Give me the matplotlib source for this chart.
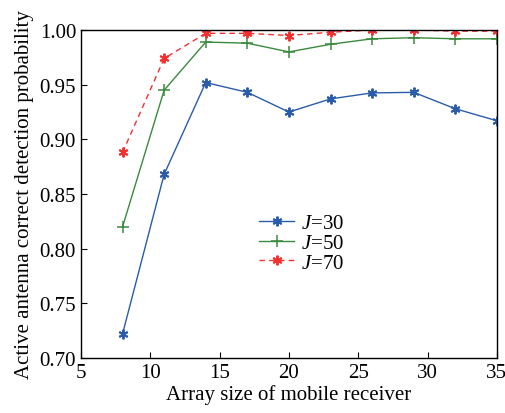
import numpy as np
import matplotlib.pyplot as plt

plt.rcParams['font.family'] = ['Liberation Serif', 'DejaVu Serif']
plt.rcParams['mathtext.fontset'] = 'custom'
plt.rcParams['mathtext.it'] = 'Liberation Serif:italic'
plt.rcParams['mathtext.rm'] = 'Liberation Serif'

# ========== DATA ==========
array_size = [8, 11, 14, 17, 20, 23, 26, 29, 32, 35]
p_j30 = [0.722, 0.868, 0.952, 0.943, 0.925, 0.937, 0.9425, 0.943, 0.928, 0.917]
p_j50 = [0.820, 0.945, 0.989, 0.988, 0.980, 0.987, 0.992, 0.993, 0.992, 0.992]
p_j70 = [0.888, 0.974, 0.997, 0.997, 0.995, 0.998, 1.000, 1.000, 0.999, 0.999]

fig = plt.figure(figsize=(5.06, 4.14), dpi=100)
ax = fig.add_axes([0.160, 0.133, 0.822, 0.792])

asterisk = (6, 2, 0)
ax.plot(array_size, p_j30, color='#2a5caa', marker=asterisk, markersize=7, markeredgewidth=1.4,
        linewidth=1.0, label='$J$=30')
ax.plot(array_size, p_j50, color='#3a8a3e', marker='+', markersize=8, markeredgewidth=1.1,
        linewidth=1.0, label='$J$=50')
ax.plot(array_size, p_j70, color='#f2302f', marker=asterisk, markersize=7, markeredgewidth=1.4,
        linewidth=1.0, linestyle=(0, (4, 3)), label='$J$=70')

ax.set_xlim(5, 35)
ax.set_ylim(0.70, 1.00)
ax.set_xticks(range(5, 36, 5))
ax.set_yticks(np.arange(0.70, 1.001, 0.05))
ax.set_yticklabels([f"{v:.2f}" for v in np.arange(0.70, 1.001, 0.05)])
ax.tick_params(direction='in', labelsize=15, length=4, top=False, right=False)
for s in ax.spines.values():
    s.set_linewidth(1.0)

ax.set_xlabel("Array size of mobile receiver", fontsize=15, labelpad=2)
ax.set_ylabel("Active antenna correct detection probability", fontsize=15, labelpad=4)

ax.legend(loc='center', bbox_to_anchor=(0.53, 0.35), frameon=False, fontsize=15,
          handlelength=1.7, handletextpad=0.3, labelspacing=0.0)

fig.savefig("out.png", dpi=100)
